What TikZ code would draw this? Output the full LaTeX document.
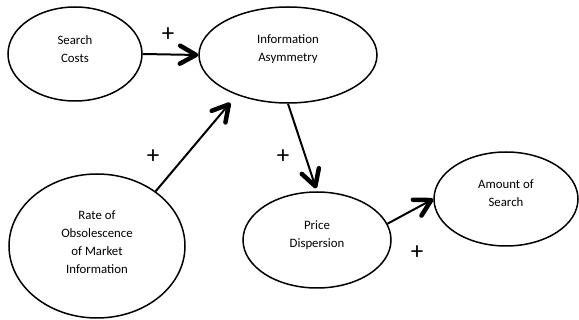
\documentclass[tikz,border=0pt]{standalone}
\usepackage{fontspec}
\setmainfont{Carlito}
\usetikzlibrary{shapes.geometric,arrows.meta}
\tikzset{
  bubble/.style={draw, ellipse, line width=1.5pt, inner sep=0pt},
  txt/.style={align=center, font=\fontsize{12.8}{18}\selectfont, inner sep=0pt},
  conn/.style={line width=2pt, -{Straight Barb[length=16pt,width=18pt,line width=4.5pt,round]}},
  sign/.style={font=\fontsize{25}{25}\selectfont, inner sep=0pt}
}
\begin{document}
\begin{tikzpicture}[x=1pt,y=-1pt]
\useasboundingbox (0,0) rectangle (579,320);
\node[bubble, minimum width=134pt, minimum height=94pt] (sc) at (75,54) {};
\node[bubble, minimum width=178pt, minimum height=96pt] (ia) at (288,55) {};
\node[bubble, minimum width=176pt, minimum height=144pt] (ro) at (97,246) {};
\node[bubble, minimum width=148pt, minimum height=96pt] (pd) at (317,240) {};
\node[bubble, minimum width=144pt, minimum height=94pt] (as) at (506,199) {};
\node[txt] (sct) at (75,49) {Search\\Costs};
\node[txt] (iat) at (288,49) {Information\\Asymmetry};
\node[txt] (rot) at (97,242) {Rate of\\Obsolescence\\of Market\\Information};
\node[txt] (pdt) at (317,235) {Price\\Dispersion};
\node[txt] (ast) at (506,193) {Amount of\\Search};
\draw[conn] (sc.east) -- (ia.west);
\draw[conn, shorten >=10pt] (ro.43) -- (ia.218);
\draw[conn, shorten >=3pt] (ia.270) -- (pd.90);
\draw[conn] (pd.13) -- (as.180);
\node[sign] (p1) at (168,35) {+};
\node[sign] (p2) at (153,157) {+};
\node[sign] (p3) at (283,157) {+};
\node[sign] (p4) at (417,253) {+};
\end{tikzpicture}
\end{document}
